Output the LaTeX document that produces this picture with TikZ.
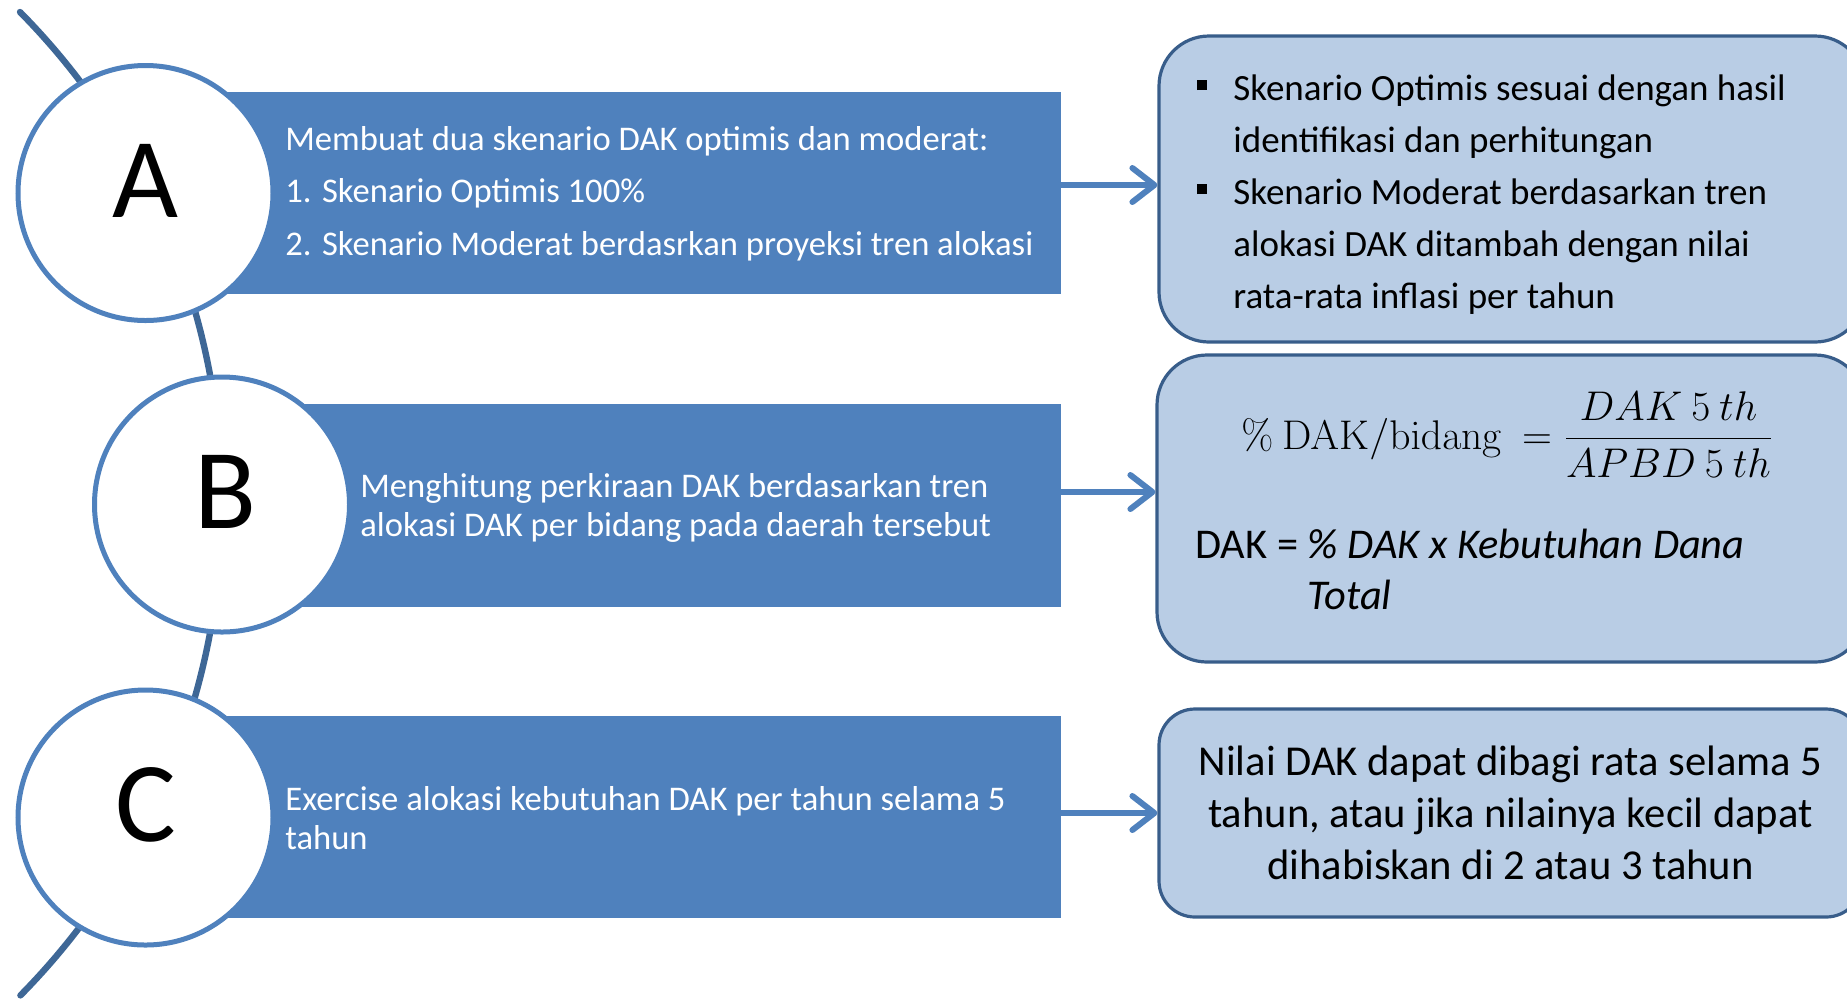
\documentclass[tikz,border=0pt]{standalone}
\usepackage[no-math]{fontspec}
\setmainfont{Carlito}
\usepackage{tikz}
\usetikzlibrary{arrows.meta}
\definecolor{bandblue}{RGB}{79,129,189}
\definecolor{spineblue}{RGB}{62,103,150}
\definecolor{boxfill}{RGB}{185,205,229}
\definecolor{boxline}{RGB}{56,93,138}
\tikzset{spine/.style={draw=spineblue,line width=3.2pt,line cap=round}}
\tikzset{band/.style={fill=bandblue,inner sep=0pt}}
\tikzset{stage/.style={circle,draw=bandblue,line width=2.5pt,fill=white,minimum size=127.5pt,inner sep=0pt,text height=36pt,text depth=12pt,font=\fontsize{57}{60}\selectfont}}
\tikzset{outbox/.style={rectangle,rounded corners=25pt,draw=boxline,line width=1.6pt,fill=boxfill,inner sep=0pt}}
\tikzset{flow/.style={draw=bandblue,line width=3pt,-{Straight Barb[length=11pt,width=17pt,round]}}}
\tikzset{bandtext/.style={text=white,anchor=base west,inner sep=0pt}}
\tikzset{boxtext/.style={anchor=base west,inner sep=0pt}}
\newcommand{\sqbullet}{\rule[5pt]{5pt}{5pt}}

\begin{document}
\begin{tikzpicture}[x=0.5pt,y=-0.5pt]
  \useasboundingbox (0,0) rectangle (1847,998);
  \clip (0,0) rectangle (1847,998);
  \draw[spine] (20,12) arc[start angle=-44.65,end angle=44.6,radius=700];
  \node[band,minimum width=458pt,minimum height=101pt] (barA) at (603,193) {};
  \node[band,minimum width=419.5pt,minimum height=101.5pt] (barB) at (641.5,505.5) {};
  \node[band,minimum width=458pt,minimum height=101pt] (barC) at (603,817) {};
  \node[stage] (stA) at (145.5,193) {A};
  \node[stage] (stB) at (222,504.5) {\kern4pt B};
  \node[stage] (stC) at (145.5,817.5) {C};
  \node[bandtext,font=\fontsize{17.3}{26.4}\selectfont] (txtA) at (285,150) {\begin{tabular}[t]{@{}l@{}}
    Membuat dua skenario DAK optimis dan moderat:\\
    1. Skenario Optimis 100\%\\
    2. Skenario Moderat berdasrkan proyeksi tren alokasi
  \end{tabular}};
  \node[bandtext,font=\fontsize{17.3}{19.8}\selectfont] (txtB) at (360,497) {\begin{tabular}[t]{@{}l@{}}
    Menghitung perkiraan DAK berdasarkan tren\\
    alokasi DAK per bidang pada daerah tersebut
  \end{tabular}};
  \node[bandtext,font=\fontsize{17.3}{19.6}\selectfont] (txtC) at (285,810) {\begin{tabular}[t]{@{}l@{}}
    Exercise alokasi kebutuhan DAK per tahun selama 5\\
    tahun
  \end{tabular}};
  \node[outbox,minimum width=353pt,minimum height=153pt] (boxA) at (1512,189) {};
  \node[outbox,minimum width=354pt,minimum height=153.5pt] (boxB) at (1511,508.5) {};
  \node[outbox,rounded corners=18pt,minimum width=351.5pt,minimum height=104pt,align=center,font=\fontsize{21.3}{26}\selectfont] (boxC) at (1510.5,813) {Nilai DAK dapat dibagi rata selama 5\\
    tahun, atau jika nilainya kecil dapat\\
    dihabiskan di 2 atau 3 tahun};
  \node[boxtext,font=\fontsize{18.5}{26}\selectfont] (noteA) at (1197,100) {\begin{tabular}[t]{@{}p{18pt}@{}l@{}}
    \sqbullet & Skenario Optimis sesuai dengan hasil\\
    & identifikasi dan perhitungan\\
    \sqbullet & Skenario Moderat berdasarkan tren\\
    & alokasi DAK ditambah dengan nilai\\
    & rata-rata inflasi per tahun
  \end{tabular}};
  \node[boxtext,font=\fontsize{19.5}{24}\selectfont] (ratio) at (1241,449) {$\displaystyle \%\ \mathrm{DAK/bidang}\ = \frac{DAK\ 5\ th}{APBD\ 5\ th}$};
  \node[boxtext,font=\fontsize{21.2}{25.5}\selectfont] (noteB) at (1195,558) {\begin{tabular}[t]{@{}l@{}l@{}}
    \mbox{DAK =\ } & \textit{\% DAK x Kebutuhan Dana}\\
    & \textit{Total}
  \end{tabular}};
  \draw[flow] ([yshift=4pt]barA.east) -- ([yshift=4pt]barA.east -| boxA.west);
  \draw[flow] ([yshift=6.75pt]barB.east) -- ([yshift=6.75pt]barB.east -| boxB.west);
  \draw[flow] ([yshift=2pt]barC.east) -- ([yshift=2pt]barC.east -| boxC.west);
\end{tikzpicture}
\end{document}
